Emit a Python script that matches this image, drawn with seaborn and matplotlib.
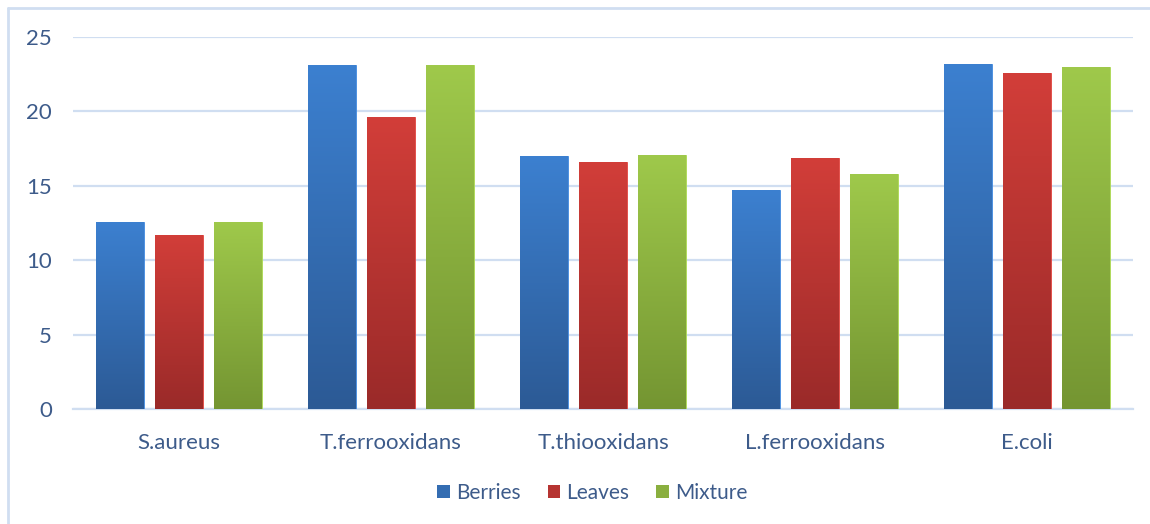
import numpy as np
import pandas as pd
import matplotlib
matplotlib.use("Agg")
import matplotlib.pyplot as plt
import matplotlib.colors as mcolors
from matplotlib.patches import Patch
from matplotlib.lines import Line2D
import seaborn as sns

# data
categories = ["S.aureus", "T.ferrooxidans", "T.thiooxidans", "L.ferrooxidans", "E.coli"]
berries = [12.6, 23.1, 17.0, 14.7, 23.2]
leaves = [11.7, 19.6, 16.6, 16.9, 22.6]
mixture = [12.6, 23.1, 17.1, 15.8, 23.0]
series = ["Berries", "Leaves", "Mixture"]
y_ticks = [0, 5, 10, 15, 20, 25]

df = pd.DataFrame({
    "category": categories * 3,
    "value": berries + leaves + mixture,
    "series": [s for s in series for _ in categories],
})

# top / bottom colours of each gradient
grad = {
    "Berries": ("#3c80d0", "#2c5a95"),
    "Leaves": ("#d23e39", "#9a2a29"),
    "Mixture": ("#9fc94b", "#749532"),
}
mid = {k: mcolors.to_hex((np.array(mcolors.to_rgb(a)) + np.array(mcolors.to_rgb(b))) / 2)
       for k, (a, b) in grad.items()}

text_col = "#3d5b8a"
grid_col = "#d0def1"

sns.set_theme(style="white")
plt.rcParams["font.family"] = ["Lato", "DejaVu Sans"]

fig = plt.figure(figsize=(11.5, 5.24), dpi=100)
ax = fig.add_axes([73 / 1150, 1 - 409 / 524, 1060 / 1150, 372 / 524])

sns.barplot(data=df, x="category", y="value", hue="series", order=categories,
            hue_order=series, palette=mid, width=0.835, gap=0.2,
            errorbar=None, legend=False, ax=ax, zorder=3)

# gradient fill per bar
n = len(categories)
for i, bar in enumerate(ax.patches[: n * len(series)]):
    s = series[i // n]
    top, bot = grad[s]
    cmap = mcolors.LinearSegmentedColormap.from_list(s, [bot, top])
    x0, y0 = bar.get_x(), bar.get_y()
    w, h = bar.get_width(), bar.get_height()
    im = ax.imshow(np.linspace(0, 1, 256).reshape(-1, 1), cmap=cmap, origin="lower",
                   extent=[x0, x0 + w, y0, y0 + h], aspect="auto", zorder=3.5)
    im.set_clip_path(bar)
    bar.set_edgecolor(mcolors.to_hex(np.clip(np.array(mcolors.to_rgb(top)) * 1.1, 0, 1)))
    bar.set_linewidth(0.6)
ax.set_aspect("auto")
ax.set_ylim(0, 25)
ax.set_xlim(-0.5, len(categories) - 0.5)

ax.set_yticks(y_ticks)
ax.yaxis.grid(True, color=grid_col, linewidth=1.6, zorder=0)
ax.set_axisbelow(True)
for sp in ["top", "right", "left"]:
    ax.spines[sp].set_visible(False)
ax.spines["bottom"].set_color(grid_col)
ax.spines["bottom"].set_linewidth(1.6)
ax.tick_params(axis="both", length=0, colors=text_col, labelsize=16)
ax.tick_params(axis="y", pad=15)
ax.tick_params(axis="x", pad=17)
ax.set_xlabel("")
ax.set_ylabel("")

handles = [Patch(facecolor=mid[s], edgecolor="none", label=s) for s in series]
leg = fig.legend(handles=handles, loc="center", bbox_to_anchor=(0.515, 1 - 493 / 524),
                 ncol=3, frameon=False, fontsize=15, handlelength=0.6, handleheight=0.6,
                 handletextpad=0.3, columnspacing=1.3)
for t in leg.get_texts():
    t.set_color(text_col)

# chart area border (left and top visible)
fig.add_artist(Line2D([8 / 1150, 8 / 1150], [0, 1 - 8 / 524], color=grid_col, lw=2))
fig.add_artist(Line2D([8 / 1150, 1], [1 - 8 / 524, 1 - 8 / 524], color=grid_col, lw=2))

fig.savefig("out.png", dpi=100)
